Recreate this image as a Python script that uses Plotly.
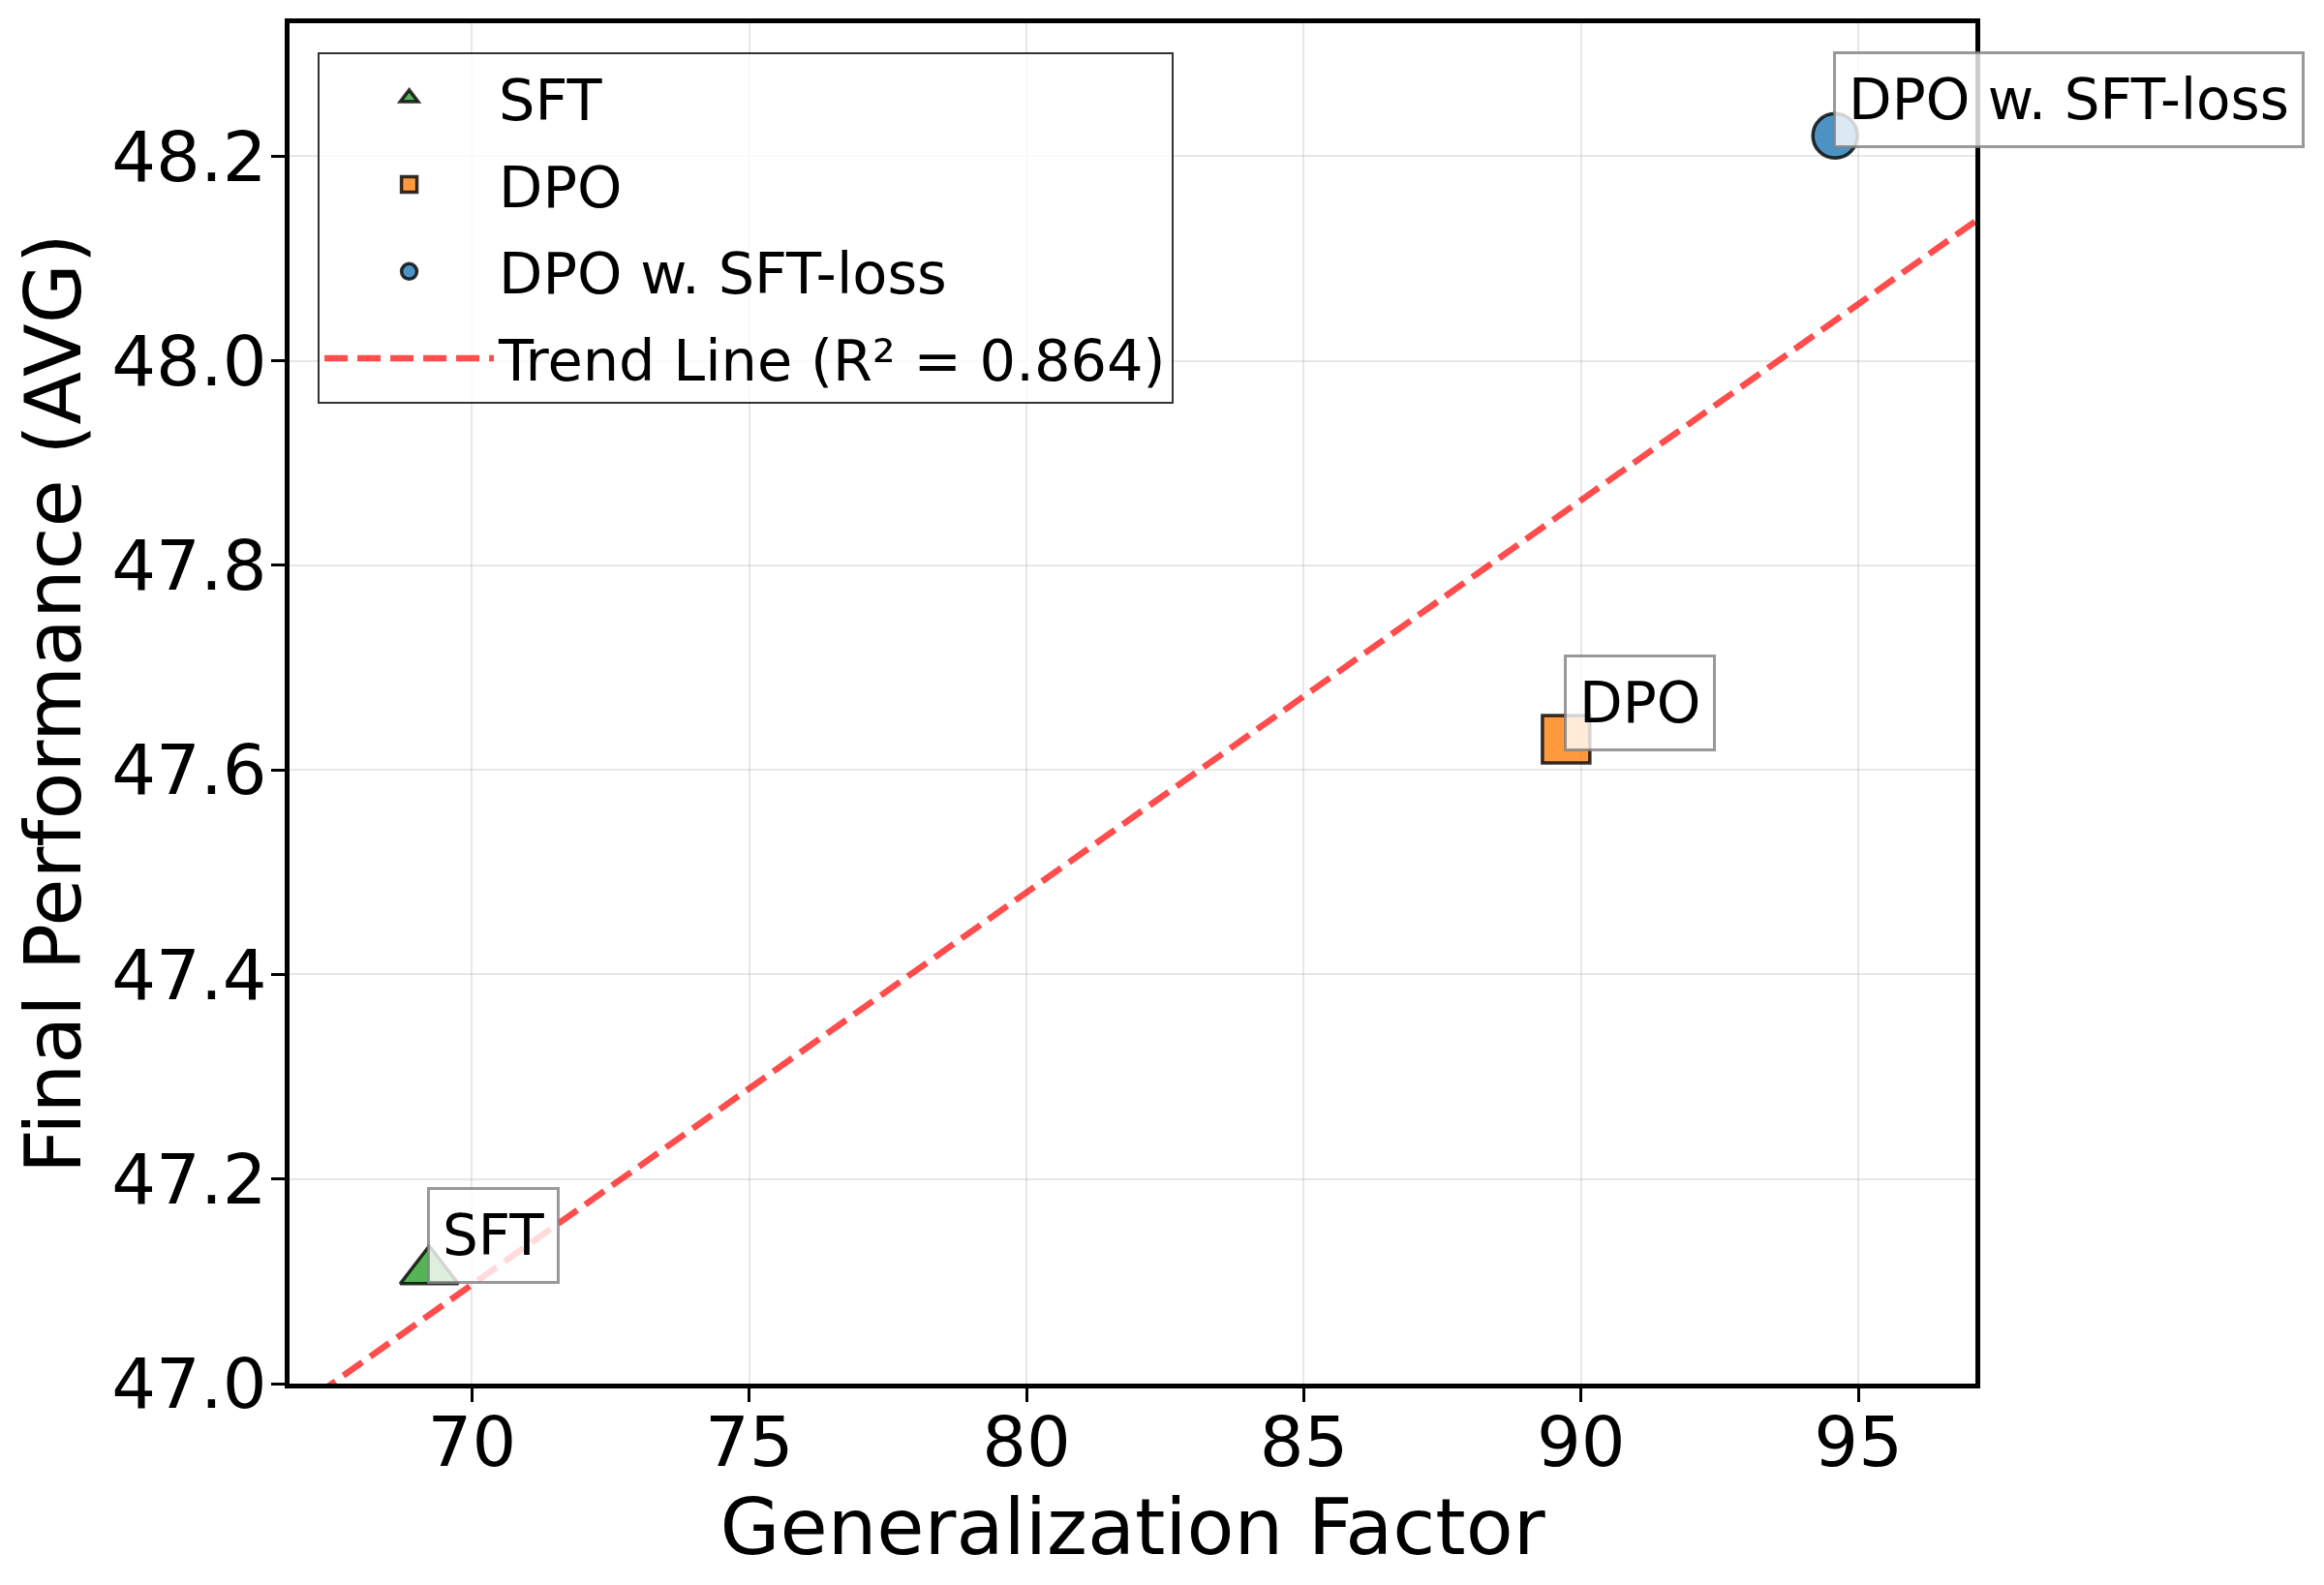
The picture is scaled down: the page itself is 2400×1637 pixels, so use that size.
import numpy as np
import plotly.graph_objects as go

# ---- data ----
methods = ["SFT", "DPO", "DPO w. SFT-loss"]
gen_factor = [69.23, 89.73, 94.58]
final_perf = [47.11, 47.63, 48.22]
colors = ["rgba(44,160,44,0.8)", "rgba(255,127,14,0.8)", "rgba(31,119,180,0.8)"]
symbols = ["triangle-up", "square", "circle"]
marker_sizes = [52, 49, 46]
trend_label = "Trend Line (R² = 0.864)"

x_range = [66.71, 97.11]
y_range = [47.0, 48.33]
x_ticks = [70, 75, 80, 85, 90, 95]
y_ticks = [47.0, 47.2, 47.4, 47.6, 47.8, 48.0, 48.2]

FONT = "DejaVu Sans"

fig = go.Figure()

for i, m in enumerate(methods):
    fig.add_trace(go.Scatter(
        x=[gen_factor[i]], y=[final_perf[i]], mode="markers", name=m,
        legendgroup=m,
        marker=dict(symbol=symbols[i], size=marker_sizes[i], color=colors[i],
                    line=dict(color="rgba(0,0,0,0.8)", width=3.5)),
        cliponaxis=False,
    ))

slope, intercept = np.polyfit(gen_factor, final_perf, 1)
tx = np.array(x_range)
fig.add_trace(go.Scatter(
    x=tx, y=slope * tx + intercept, mode="lines", name=trend_label,
    legendgroup="trend",
    line=dict(color="rgba(255,0,0,0.7)", width=6.5, dash="24px,10px"),
))

for i, m in enumerate(methods):
    fig.add_annotation(
        x=gen_factor[i], y=final_perf[i], text=m, showarrow=False,
        xanchor="left", yanchor="bottom", yshift=-13, xshift=-2,
        font=dict(family=FONT, size=58, color="black"),
        bgcolor="rgba(255,255,255,0.8)", bordercolor="rgba(128,128,128,0.8)",
        borderwidth=3, borderpad=13,
    )

axis_common = dict(
    showline=True, linecolor="black", linewidth=5, mirror=True,
    ticks="outside", ticklen=14, tickwidth=3, tickcolor="black",
    showgrid=True, gridcolor="rgba(176,176,176,0.3)", gridwidth=2,
    zeroline=False, tickfont=dict(family=FONT, size=72, color="black"),
)

fig.update_xaxes(range=x_range, tickvals=x_ticks, ticklabelstandoff=-20, **axis_common,
                 title=dict(text="Generalization Factor", standoff=16,
                            font=dict(family=FONT, size=80, color="black")))
fig.update_yaxes(range=y_range, tickvals=y_ticks, tickformat=".1f", ticklabelstandoff=-10,
                 **axis_common,
                 title=dict(text="Final Performance (AVG)", standoff=7,
                            font=dict(family=FONT, size=80, color="black")))

fig.update_layout(
    width=2400, height=1637,
    margin=dict(l=299, r=360, t=24, b=208, autoexpand=False),
    plot_bgcolor="white", paper_bgcolor="white",
    font=dict(family=FONT, color="black"),
    legend=dict(
        x=0.0167, y=0.9786, xanchor="left", yanchor="top",
        bgcolor="rgba(255,255,255,0.8)", bordercolor="rgba(0,0,0,0.8)", borderwidth=2,
        font=dict(family=FONT, size=59, color="black"),
        itemwidth=175, tracegroupgap=10, itemsizing="trace",
    ),
    showlegend=True,
)

fig.write_html("out.html", config={"displayModeBar": False},
               post_script="document.body.style.margin='0';")
